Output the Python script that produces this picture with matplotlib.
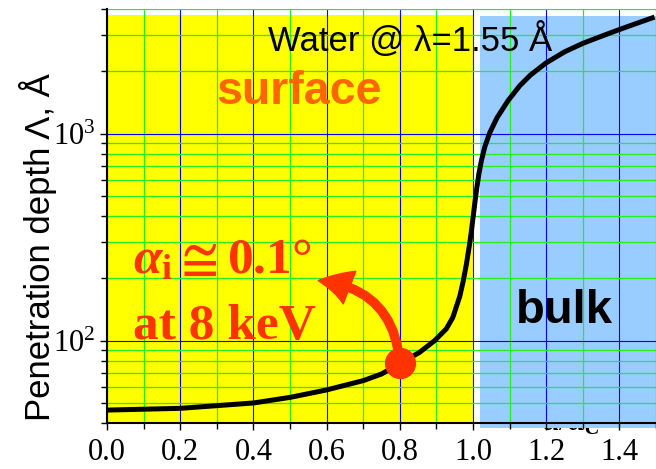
import matplotlib
matplotlib.use("Agg")
import matplotlib.pyplot as plt
from matplotlib.patches import Rectangle, FancyArrowPatch
from matplotlib.ticker import MultipleLocator, LogLocator, NullFormatter, FixedLocator, FormatStrFormatter

plt.rcParams["font.family"] = ["Liberation Serif", "DejaVu Serif"]
plt.rcParams["mathtext.fontset"] = "custom"
plt.rcParams["mathtext.rm"] = "Liberation Serif"
plt.rcParams["mathtext.it"] = "Liberation Serif:bold:italic"
plt.rcParams["mathtext.bf"] = "Liberation Serif:bold"

# Penetration depth of X-rays in water vs. normalised incidence angle alpha/alpha_c
alpha_ratio = [0.0, 0.2, 0.4, 0.5, 0.6, 0.7, 0.75, 0.8, 0.854, 0.895, 0.927,
               0.945, 0.964, 0.973, 0.982, 0.991, 0.996, 1.000, 1.005, 1.009,
               1.016, 1.023, 1.032, 1.046, 1.066, 1.096, 1.128, 1.157, 1.200,
               1.250, 1.300, 1.350, 1.400, 1.446, 1.496]
depth = [46.2, 47.1, 50.0, 53.2, 57.8, 64.1, 69.0, 77.6, 87.8, 100.0, 114.0,
         129.6, 164.0, 193.0, 234.0, 295.0, 343.0, 391.0, 462.0, 525.0,
         638.0, 741.0, 861.0, 1012.0, 1197.0, 1445.0, 1706.0, 1919.0, 2198.0,
         2483.0, 2729.0, 2951.0, 3184.0, 3404.0, 3656.0]

# highlighted working point
marker_ratio = 0.8
marker_depth = 77.6

x_ticks = [0.0, 0.2, 0.4, 0.6, 0.8, 1.0, 1.2, 1.4]
x_limits = (0.0, 1.5)
y_limits = (40, 4000)

# regions: surface-sensitive below critical angle, bulk above
surface_span = (0.0, 1.0)
bulk_span = (1.018, 1.5)

RED = "#FF3300"

fig = plt.figure(figsize=(6.56, 4.69), dpi=100)
ax = fig.add_axes([0.1631, 0.098, 0.8369, 0.8828])
ax.set_xlim(*x_limits)
ax.set_yscale("log")
ax.set_ylim(*y_limits)

# shaded regions
ax.add_patch(Rectangle((surface_span[0], 0.0), surface_span[1] - surface_span[0], 0.986,
                       transform=ax.get_xaxis_transform(), facecolor="#FFFF00",
                       edgecolor="none", zorder=1))
ax.add_patch(Rectangle((bulk_span[0], -0.012), bulk_span[1] - bulk_span[0], 0.996,
                       transform=ax.get_xaxis_transform(), facecolor="#99CCFF",
                       edgecolor="none", zorder=1, clip_on=False))

# axis label that sits partly behind the bulk region
ax.text(1.268, -0.017, r"$\alpha/\alpha_{C}$", transform=ax.get_xaxis_transform(),
        ha="center", va="baseline", fontsize=22, zorder=0.8, clip_on=False)

# grid
ax.xaxis.set_major_locator(FixedLocator(x_ticks))
ax.xaxis.set_minor_locator(MultipleLocator(0.1))
ax.xaxis.set_major_formatter(FormatStrFormatter("%.1f"))
ax.yaxis.set_major_locator(LogLocator(base=10))
ax.yaxis.set_minor_locator(LogLocator(base=10, subs=(2, 3, 4, 5, 6, 7, 8, 9)))
ax.yaxis.set_minor_formatter(NullFormatter())
ax.grid(which="major", color="#0000FF", linewidth=0.8)
ax.grid(which="minor", color="#22EE22", linewidth=0.9)
ax.set_axisbelow("line")

# curve
ax.plot(alpha_ratio, depth, color="black", linewidth=3.6, zorder=3,
        solid_joinstyle="round", solid_capstyle="butt")

# curved arrow and marker
arrow = FancyArrowPatch((marker_ratio, marker_depth), (0.577, 195),
                        connectionstyle="arc3,rad=0.42",
                        arrowstyle="simple,head_length=0.55,head_width=0.6,tail_width=0.14",
                        mutation_scale=42, color=RED, zorder=4, shrinkA=0, shrinkB=0)
ax.add_patch(arrow)
ax.plot([marker_ratio], [marker_depth], "o", color=RED, markersize=21.5, zorder=5)

# annotations
ax.text(0.44, 2520, "Water @ λ=1.55 Å", family="Liberation Sans", fontsize=25,
        ha="left", va="baseline", zorder=6)
ax.text(0.524, 1396, "surface", family="Liberation Sans", fontweight="bold",
        fontsize=33.5, color="#FF6600", ha="center", va="baseline", zorder=6)
ax.text(1.25, 122, "bulk", family="Liberation Sans", fontweight="bold",
        fontsize=34, color="black", ha="center", va="baseline", zorder=6)
ax.text(0.071, 213, r"$\alpha_{\mathbf{i}}\mathbf{\cong 0.1°}$", fontsize=37, color=RED,
        ha="left", va="baseline", zorder=6)
ax.text(0.071, 102, "at 8 keV", fontsize=37, fontweight="bold", color=RED,
        ha="left", va="baseline", zorder=6)

ax.set_ylabel("Penetration depth Λ, Å", family="Liberation Sans", fontsize=25,
              va="center")
ax.yaxis.set_label_coords(-0.1257, 0.424)

# spines & ticks
for side in ("top", "right"):
    ax.spines[side].set_visible(False)
for side in ("left", "bottom"):
    ax.spines[side].set_linewidth(1.5)
    ax.spines[side].set_zorder(7)
ax.tick_params(which="major", direction="out", length=5, width=1.0, labelsize=22)
ax.tick_params(which="minor", direction="out", length=4, width=1.0)
ax.tick_params(axis="x", pad=6)
ax.tick_params(axis="y", pad=3, labelsize=22)

fig.savefig("out.png", dpi=100)
